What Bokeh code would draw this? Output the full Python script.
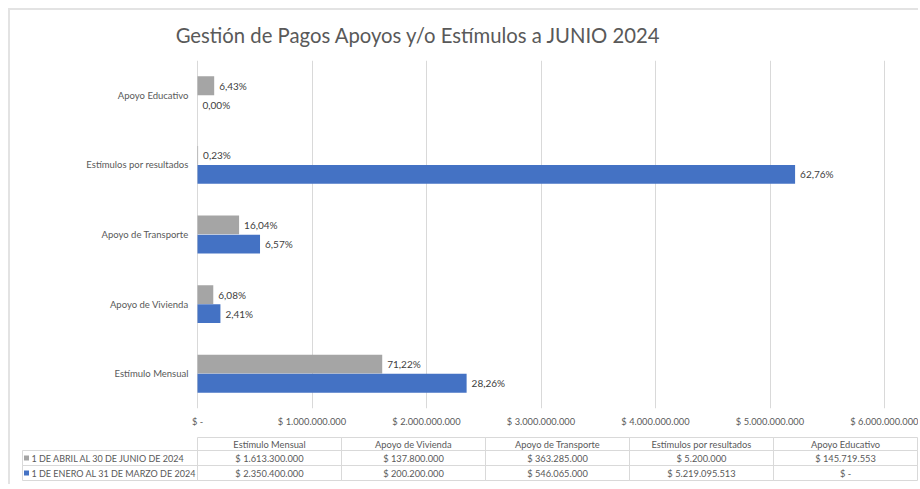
from bokeh.plotting import figure
from bokeh.models import ColumnDataSource, Range1d, FixedTicker
from bokeh.transform import dodge
from bokeh.layouts import column
from bokeh.embed import file_html
from bokeh.resources import INLINE
from bokeh.core.properties import value

# ---------------- data ----------------
title_text = "Gestión de Pagos Apoyos y/o Estímulos a JUNIO 2024"
categories = ["Estímulo Mensual", "Apoyo de Vivienda", "Apoyo de Transporte",
              "Estímulos por resultados", "Apoyo Educativo"]
table_order = ["Estímulo Mensual", "Apoyo de Vivienda", "Apoyo de Transporte",
               "Estímulos por resultados", "Apoyo Educativo"]
series_names = ["1 DE ABRIL AL 30 DE JUNIO DE 2024", "1 DE ENERO AL 31 DE MARZO DE 2024"]
abr_jun = [1613300000, 137800000, 363285000, 5200000, 145719553]
ene_mar = [2350400000, 200200000, 546065000, 5219095513, 0]
x_ticks = [0, 1000000000, 2000000000, 3000000000, 4000000000, 5000000000, 6000000000]


def pesos(v):
    if v == 0:
        return "$ -"
    return "$ " + f"{int(v):,}".replace(",", ".")


def pct(v, total):
    return f"{v / total * 100:.2f}%".replace(".", ",")


GRAY = "#A5A5A5"
BLUE = "#4472C4"
TXT = "#595959"
GRID = "#D9D9D9"
FONT = "Lato"

tot_a = sum(abr_jun)
tot_e = sum(ene_mar)
src = ColumnDataSource(dict(
    cat=categories,
    abr=abr_jun,
    ene=ene_mar,
    abr_lbl=[pct(v, tot_a) for v in abr_jun],
    ene_lbl=[pct(v, tot_e) for v in ene_mar],
))

# ---------------- layout geometry (page pixels) ----------------
W = 918
F_L, F_R, F_T, F_B = 197, 884, 60, 408   # plot area: x=0 .. x=6e9, top .. bottom
AX_B = 430
H_A = F_T                # title strip
H_B = AX_B - F_T         # plot + x axis labels
H_C = 54                 # data table


def blank(h, xr, yr):
    f = figure(width=W, height=h, x_range=xr, y_range=yr, output_backend="svg",
               toolbar_location=None, min_border=0,
               x_axis_location=None, y_axis_location=None)
    f.grid.visible = False
    f.outline_line_color = None
    f.background_fill_color = None
    f.border_fill_color = None
    f.title.visible = False
    return f


# ---- title strip ----
a = blank(H_A, Range1d(0, W), Range1d(H_A, 0))
a.text(x=[418], y=[34], text=[title_text], text_align="center",
       text_baseline="middle", text_font=value(FONT), text_font_size="20.3px",
       text_color=TXT)

# ---- bar chart ----
px = x_ticks[-1] / (F_R - F_L)
x_start = -F_L * px
x_end = x_ticks[-1] + (W - F_R) * px

p = figure(width=W, height=H_B, y_range=categories, x_range=Range1d(x_start, x_end),
           output_backend="svg", toolbar_location=None,
           min_border_left=0, min_border_right=0, min_border_top=0,
           min_border_bottom=AX_B - F_B)
p.title.visible = False
p.outline_line_color = None
p.background_fill_color = None
p.border_fill_color = None
p.ygrid.grid_line_color = None
p.xgrid.grid_line_color = GRID
p.xgrid.grid_line_width = 1
p.xgrid.ticker = FixedTicker(ticks=x_ticks)

p.xaxis.ticker = FixedTicker(ticks=x_ticks)
p.xaxis.major_label_overrides = {t: pesos(t) for t in x_ticks}
p.yaxis.fixed_location = 0
for ax in (p.xaxis, p.yaxis):
    ax.axis_line_color = None
    ax.major_tick_line_color = None
    ax.minor_tick_line_color = None
    ax.major_tick_out = 0
    ax.major_tick_in = 0
    ax.minor_tick_out = 0
    ax.minor_tick_in = 0
    ax.major_label_text_color = TXT
    ax.major_label_text_font = FONT
p.xaxis.major_label_text_font_size = "9.3px"
p.yaxis.major_label_text_font_size = "9.5px"
p.xaxis.major_label_standoff = 7
p.yaxis.major_label_standoff = 9

BH = 0.27
OFF = 0.137
p.hbar(y=dodge("cat", OFF, range=p.y_range), left=0, right="abr", height=BH,
       fill_color=GRAY, line_color=None, source=src)
p.hbar(y=dodge("cat", -OFF, range=p.y_range), left=0, right="ene", height=BH,
       fill_color=BLUE, line_color=None, source=src)
p.text(x="abr", y=dodge("cat", OFF, range=p.y_range), text="abr_lbl", source=src,
       x_offset=5, text_baseline="middle", text_align="left",
       text_font=value(FONT), text_font_size="10px", text_color="#404040")
p.text(x="ene", y=dodge("cat", -OFF, range=p.y_range), text="ene_lbl", source=src,
       x_offset=5, text_baseline="middle", text_align="left",
       text_font=value(FONT), text_font_size="10px", text_color="#404040")

# ---- data table ----
TY0 = AX_B
t = blank(H_C, Range1d(0, W), Range1d(H_C, 0))

n = len(table_order)
tab_left = F_L
tab_right = 917
cw = (tab_right - tab_left) / n
rows_y = [437 - TY0, 450 - TY0, 465 - TY0, 480 - TY0]
leg_left = 22

lefts, rights, tops, bottoms = [], [], [], []
for r in range(3):
    for c in range(n):
        lefts.append(tab_left + c * cw)
        rights.append(tab_left + (c + 1) * cw)
        tops.append(rows_y[r])
        bottoms.append(rows_y[r + 1])
for r in (1, 2):
    lefts.append(leg_left)
    rights.append(tab_left)
    tops.append(rows_y[r])
    bottoms.append(rows_y[r + 1])
t.quad(left=lefts, right=rights, top=tops, bottom=bottoms,
       fill_color=None, line_color=GRID, line_width=1)

cx = [tab_left + (c + 0.5) * cw for c in range(n)]
mid = [(rows_y[i] + rows_y[i + 1]) / 2 for i in range(3)]
idx = {c: i for i, c in enumerate(categories)}
cell_x, cell_y, cell_t = [], [], []
for c, name in enumerate(table_order):
    cell_x += [cx[c]] * 3
    cell_y += mid
    cell_t += [name, pesos(abr_jun[idx[name]]), pesos(ene_mar[idx[name]])]
t.text(x=cell_x, y=cell_y, text=cell_t, text_align="center", text_baseline="middle",
       text_font=value(FONT), text_font_size="9.3px", text_color=TXT)

t.scatter(x=[26, 26], y=mid[1:], marker="square", size=5,
          fill_color=[GRAY, BLUE], line_color=None)
t.text(x=[31, 31], y=mid[1:], text=series_names, text_align="left",
       text_baseline="middle", text_font=value(FONT), text_font_size="9px",
       text_color=TXT)

layout = column(a, p, t, spacing=0,
                styles={"box-shadow": "inset 8px 8px 0 0 white, inset 10px 10px 0 0 #E3E3E3",
                        "background-color": "white"})

open("out.html", "w").write(file_html(layout, INLINE))
